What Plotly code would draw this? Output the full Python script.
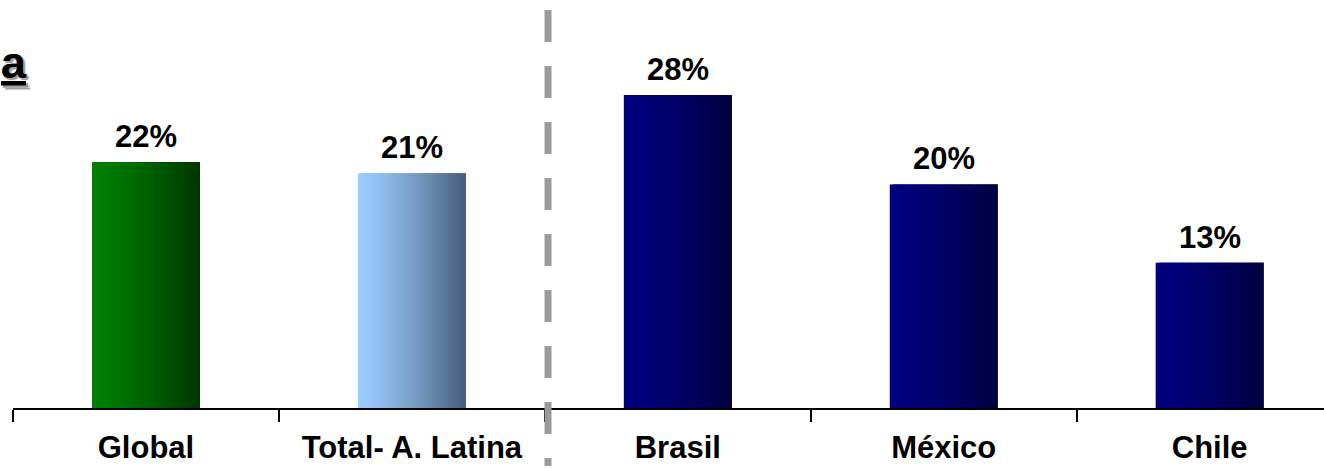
import plotly.graph_objects as go

categories = ["Global", "Total- A. Latina", "Brasil", "México", "Chile"]
values = [22, 21, 28, 20, 13]
value_labels = ["22%", "21%", "28%", "20%", "13%"]
title_text = "a"

# gradient colours per bar (left -> right)
left_colors = [(0, 128, 0), (153, 204, 255), (0, 0, 128), (0, 0, 128), (0, 0, 128)]
right_colors = [(0, 54, 0), (72, 92, 120), (0, 0, 62), (0, 0, 62), (0, 0, 62)]

FONT = "Liberation Sans, Arial, sans-serif"
W, H = 1324, 469
ML, MR, MT, MB = 13, 0, 0, 61
BAR_W = 0.406
N = 40
x_range = [-0.5, 4.43]
y_range = [0, 36.5]

def mix(a, b, t):
    return "rgb(%d,%d,%d)" % tuple(round(a[k] + (b[k] - a[k]) * t) for k in range(3))

fig = go.Figure()
step = BAR_W / N
for i in range(N):
    t = (i + 0.5) / N
    tt = t ** 1.3
    off = -BAR_W / 2 + i * step
    wid = min(step * 2.5, BAR_W / 2 - off)
    fig.add_trace(go.Bar(
        x=categories, y=values,
        width=wid, offset=off,
        marker=dict(color=[mix(l, r, tt) for l, r in zip(left_colors, right_colors)],
                    line=dict(width=0)),
        showlegend=False, hoverinfo="skip",
    ))

for c, v, lab in zip(categories, values, value_labels):
    fig.add_annotation(x=c, y=v, text="<b>%s</b>" % lab, showarrow=False,
                       yanchor="bottom", yshift=6,
                       font=dict(family=FONT, size=31, color="black"))

# separator between aggregate and countries
sep_x = (1.512 - x_range[0]) / (x_range[1] - x_range[0])
plot_h = H - MT - MB
fig.add_shape(type="line", xref="paper", yref="paper",
              x0=sep_x, x1=sep_x,
              y0=(plot_h - 10) / plot_h, y1=(plot_h - 466) / plot_h,
              line=dict(color="#9a9a9a", width=7, dash="32px,24px"))

# cropped title fragment
fig.add_annotation(xref="paper", yref="paper",
                   x=(29 - ML) / (W - ML - MR), y=(plot_h - 90) / plot_h,
                   xanchor="right", yanchor="bottom", showarrow=False,
                   text="<b><u>%s</u></b>" % title_text,
                   font=dict(family=FONT, size=45, color="black",
                             shadow="2px 2px 1px #a0a0a0"))

fig.update_layout(
    width=W, height=H,
    margin=dict(l=ML, r=MR, t=MT, b=MB),
    plot_bgcolor="white", paper_bgcolor="white",
    barmode="overlay",
    xaxis=dict(type="category", range=x_range, showline=True, linecolor="black",
               linewidth=1.5, ticks="outside", tickson="boundaries", ticklen=12,
               tickwidth=1.5, tickcolor="black", showgrid=False, zeroline=False,
               tickfont=dict(family=FONT, size=31, color="black", weight="bold"),
               ticklabelstandoff=11),
    yaxis=dict(range=y_range, visible=False, showgrid=False, zeroline=False),
)

fig.write_html("out.html", config={"displayModeBar": False},
               post_script="document.body.style.margin='0';document.body.style.overflow='hidden';")
